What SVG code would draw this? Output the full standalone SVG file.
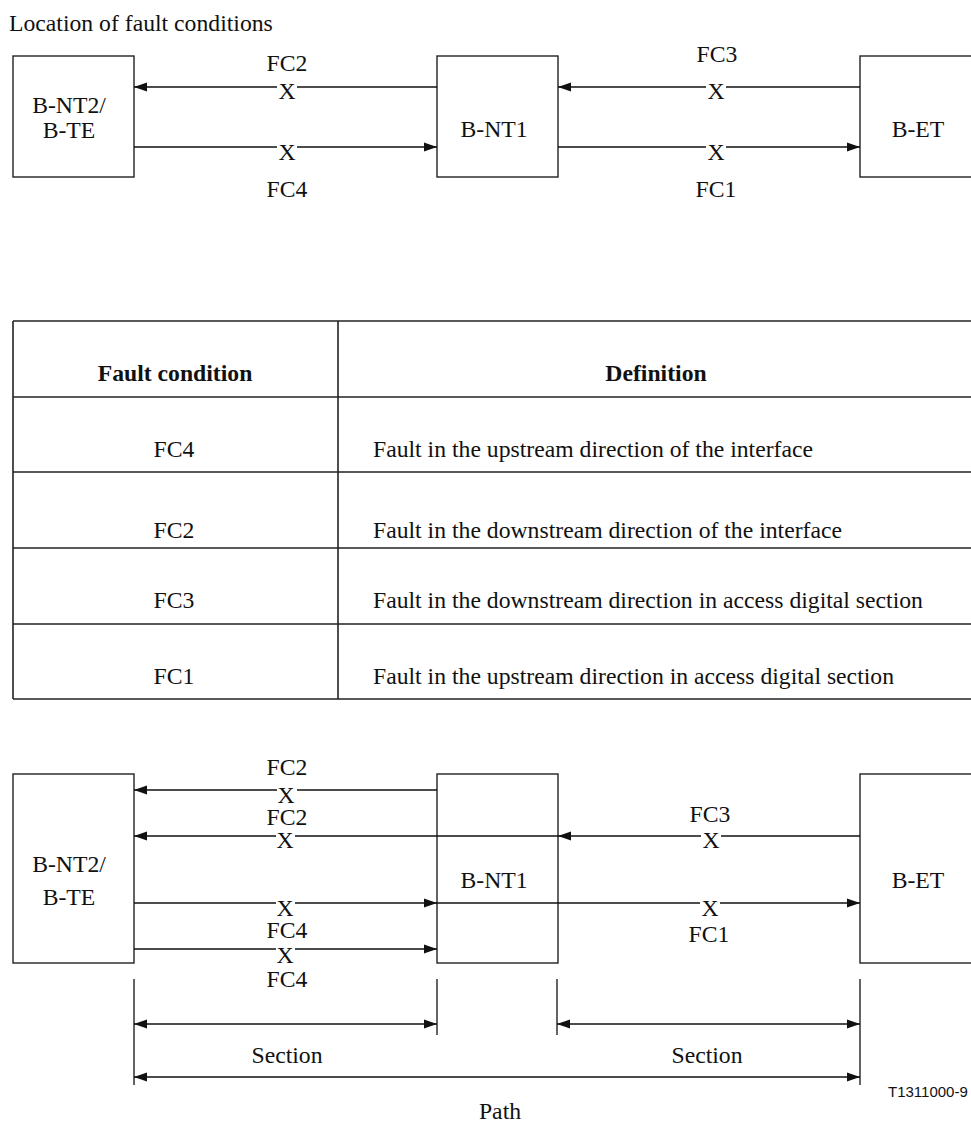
<svg xmlns="http://www.w3.org/2000/svg" width="971" height="1122" viewBox="0 0 971 1122">
<defs>
<style>
.c{text-anchor:middle}
.b{font-weight:bold}
.box{fill:#fff;stroke:#222;stroke-width:1.4}
.ln{stroke:#111;stroke-width:1.3;fill:none}
.tl{stroke:#222;stroke-width:1.6;fill:none}
.gap{fill:#fff;stroke:none}
</style>
<marker id="ah" markerUnits="userSpaceOnUse" markerWidth="13" markerHeight="10" viewBox="0 0 13 10" refX="13" refY="5" orient="auto-start-reverse">
<path d="M0,0.5 L13,5 L0,9.5 Z" fill="#111"/>
</marker>
</defs>
<rect width="971" height="1122" fill="#fff"/>
<g font-family="Liberation Serif, serif" font-size="23.7" fill="#111">

<text x="9" y="31">Location of fault conditions</text>

<!-- Top diagram -->
<g id="top-bnt2"><rect class="box" x="13" y="56" width="121" height="121"/><text class="c" x="69" y="113">B-NT2/</text><text class="c" x="69" y="138">B-TE</text></g>
<g id="top-bnt1"><rect class="box" x="437" y="56" width="121" height="121"/><text class="c" x="494" y="137">B-NT1</text></g>
<g id="top-bet"><rect class="box" x="860" y="56" width="130" height="121"/><text class="c" x="918" y="137">B-ET</text></g>

<g id="top-connectors">
<line class="ln" x1="437" y1="87" x2="134" y2="87" marker-end="url(#ah)"/>
<line class="ln" x1="860" y1="87" x2="558" y2="87" marker-end="url(#ah)"/>
<line class="ln" x1="134" y1="147" x2="437" y2="147" marker-end="url(#ah)"/>
<line class="ln" x1="558" y1="147" x2="860" y2="147" marker-end="url(#ah)"/>
<rect class="gap" x="277" y="82" width="20" height="12"/>
<rect class="gap" x="706" y="82" width="20" height="12"/>
<rect class="gap" x="277" y="142" width="20" height="12"/>
<rect class="gap" x="706" y="142" width="20" height="12"/>
<text class="c" x="287" y="99">X</text>
<text class="c" x="716" y="99">X</text>
<text class="c" x="287" y="160">X</text>
<text class="c" x="716" y="160">X</text>
<text class="c" x="287" y="71">FC2</text>
<text class="c" x="717" y="62">FC3</text>
<text class="c" x="287" y="197">FC4</text>
<text class="c" x="716" y="197">FC1</text>
</g>

<!-- Table -->
<g id="table">
<line class="tl" x1="13" y1="321" x2="980" y2="321"/>
<line class="tl" x1="13" y1="397" x2="980" y2="397"/>
<line class="tl" x1="13" y1="472" x2="980" y2="472"/>
<line class="tl" x1="13" y1="548" x2="980" y2="548"/>
<line class="tl" x1="13" y1="624" x2="980" y2="624"/>
<line class="tl" x1="13" y1="699" x2="980" y2="699"/>
<line class="tl" x1="13" y1="321" x2="13" y2="699"/>
<line class="tl" x1="338" y1="321" x2="338" y2="699"/>
<text class="c b" x="175" y="381">Fault condition</text>
<text class="c b" x="656" y="381">Definition</text>
<text class="c" x="174" y="457">FC4</text>
<text x="373" y="457">Fault in the upstream direction of the interface</text>
<text class="c" x="174" y="538">FC2</text>
<text x="373" y="538">Fault in the downstream direction of the interface</text>
<text class="c" x="174" y="608">FC3</text>
<text x="373" y="608">Fault in the downstream direction in access digital section</text>
<text class="c" x="174" y="684">FC1</text>
<text x="373" y="684">Fault in the upstream direction in access digital section</text>
</g>

<!-- Bottom diagram -->
<g id="bot-bnt2"><rect class="box" x="13" y="774" width="121" height="189"/><text class="c" x="69" y="872">B-NT2/</text><text class="c" x="69" y="905">B-TE</text></g>
<g id="bot-bnt1"><rect class="box" x="437" y="774" width="121" height="189"/><text class="c" x="494" y="888">B-NT1</text></g>
<g id="bot-bet"><rect class="box" x="860" y="774" width="130" height="189"/><text class="c" x="918" y="888">B-ET</text></g>

<g id="bot-connectors">
<line class="ln" x1="437" y1="790" x2="134" y2="790" marker-end="url(#ah)"/>
<line class="ln" x1="558" y1="836" x2="134" y2="836" marker-end="url(#ah)"/>
<line class="ln" x1="860" y1="836" x2="558" y2="836" marker-end="url(#ah)"/>
<line class="ln" x1="134" y1="903" x2="437" y2="903" marker-end="url(#ah)"/>
<line class="ln" x1="437" y1="903" x2="860" y2="903" marker-end="url(#ah)"/>
<line class="ln" x1="134" y1="949" x2="437" y2="949" marker-end="url(#ah)"/>
<rect class="gap" x="277" y="786" width="20" height="10"/>
<rect class="gap" x="276" y="831" width="19" height="10"/>
<rect class="gap" x="701" y="831" width="20" height="10"/>
<rect class="gap" x="276" y="898" width="19" height="10"/>
<rect class="gap" x="700" y="898" width="20" height="10"/>
<rect class="gap" x="276" y="944" width="19" height="10"/>
<text class="c" x="287" y="775">FC2</text>
<text class="c" x="286" y="803">X</text>
<text class="c" x="287" y="825">FC2</text>
<text class="c" x="285" y="848">X</text>
<text class="c" x="710" y="822">FC3</text>
<text class="c" x="711" y="848">X</text>
<text class="c" x="285" y="916">X</text>
<text class="c" x="287" y="938">FC4</text>
<text class="c" x="710" y="916">X</text>
<text class="c" x="709" y="942">FC1</text>
<text class="c" x="285" y="963">X</text>
<text class="c" x="287" y="987">FC4</text>
</g>

<g id="dimensions">
<line class="ln" x1="134" y1="979" x2="134" y2="1085"/>
<line class="ln" x1="437" y1="979" x2="437" y2="1035"/>
<line class="ln" x1="557" y1="979" x2="557" y2="1035"/>
<line class="ln" x1="860" y1="979" x2="860" y2="1085"/>
<line class="ln" x1="134" y1="1024" x2="437" y2="1024" marker-start="url(#ah)" marker-end="url(#ah)"/>
<line class="ln" x1="557" y1="1024" x2="860" y2="1024" marker-start="url(#ah)" marker-end="url(#ah)"/>
<line class="ln" x1="134" y1="1077" x2="860" y2="1077" marker-start="url(#ah)" marker-end="url(#ah)"/>
<text class="c" x="287" y="1063">Section</text>
<text class="c" x="707" y="1063">Section</text>
<text class="c" x="500" y="1119">Path</text>
<text font-family="Liberation Sans, Arial, sans-serif" font-size="15" x="888" y="1097">T1311000-9</text>
</g>
</g>
</svg>
